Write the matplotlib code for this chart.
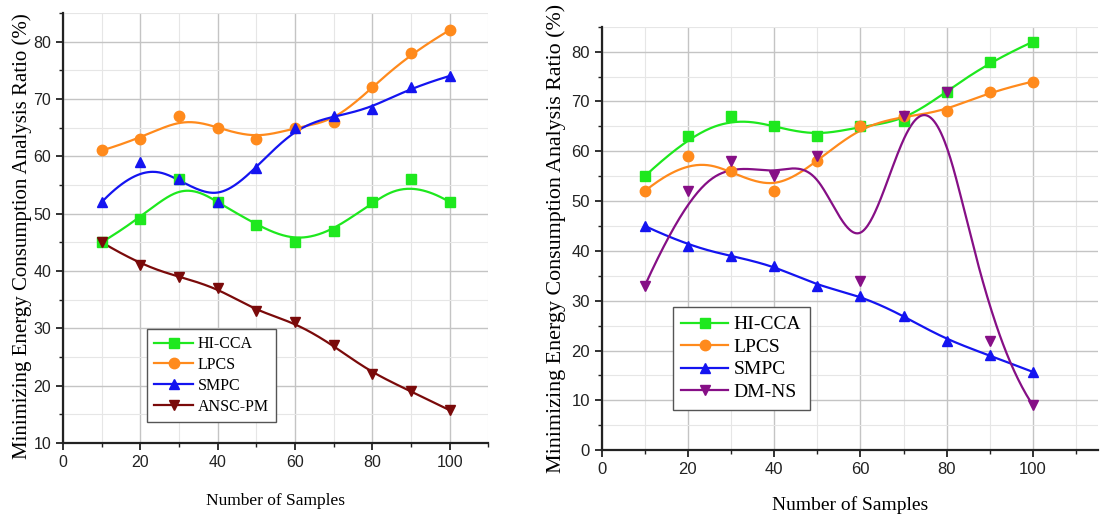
import numpy as np
import matplotlib
matplotlib.use('Agg')
import matplotlib.pyplot as plt
from matplotlib.ticker import MultipleLocator

# data
samples = [10, 20, 30, 40, 50, 60, 70, 80, 90, 100]

left_hicca = [45, 49, 56, 52, 48, 45, 47, 52, 56, 52]
left_lpcs = [61, 63, 67, 65, 63, 65, 66, 72, 78, 82]
left_smpc = [52, 59, 56, 52, 58, 65, 67, 68.3, 72, 74]
left_ansc = [45, 41, 39, 37, 33, 31, 27, 22, 19, 15.7]

right_hicca = [55, 63, 67, 65, 63, 65, 66, 72, 78, 82]
right_lpcs = [52, 59, 56, 52, 58, 65, 67, 68, 72, 74]
right_smpc = [45, 41, 39, 37, 33, 31, 27, 22, 19, 15.7]
right_dmns = [33, 52, 58, 55, 59, 34, 67, 72, 22, 9]

GREEN = '#1ee81e'
ORANGE = '#ff8a1c'
BLUE = '#1414f0'
DARKRED = '#7a0a0a'
PURPLE = '#860f86'

SERIF = ['Liberation Serif', 'DejaVu Serif']
SANS = ['Liberation Sans', 'DejaVu Sans']


def bspline(xs, ys, n=400, k=3):
    """Clamped uniform B-spline using the data points as control points"""
    P = np.column_stack([xs, ys]).astype(float)
    m = len(P)
    knots = np.concatenate([[0] * (k + 1), np.arange(1, m - k), [m - k] * (k + 1)]).astype(float)
    t = np.linspace(0, m - k - 1e-9, n)
    B = np.zeros((n, len(knots) - 1))
    for i in range(len(knots) - 1):
        B[:, i] = (knots[i] <= t) & (t < knots[i + 1])
    for d in range(1, k + 1):
        Bn = np.zeros((n, len(knots) - 1 - d))
        for i in range(len(knots) - 1 - d):
            a = knots[i + d] - knots[i]
            b = knots[i + d + 1] - knots[i + 1]
            if a > 0:
                Bn[:, i] += (t - knots[i]) / a * B[:, i]
            if b > 0:
                Bn[:, i] += (knots[i + d + 1] - t) / b * B[:, i + 1]
        B = Bn
    C = B @ P
    return C[:, 0], C[:, 1]


def draw_series(ax, ys, color, marker, label):
    cx, cy = bspline(samples, ys)
    ax.plot(cx, cy, color=color, lw=1.6, zorder=3)
    ax.plot(samples, ys, linestyle='none', marker=marker, ms=7.5,
            color=color, mec=color, zorder=4)
    # legend handle
    ax.plot([], [], color=color, lw=1.6, marker=marker, ms=7.5, label=label)


def style_axes(ax, ymin, ymax, xmax, tick_size, xlab_size, ylab_size, xpad):
    ax.set_xlim(0, xmax)
    ax.set_ylim(ymin, ymax)
    ax.xaxis.set_major_locator(MultipleLocator(20))
    ax.xaxis.set_minor_locator(MultipleLocator(10))
    ax.yaxis.set_major_locator(MultipleLocator(10))
    ax.yaxis.set_minor_locator(MultipleLocator(5))
    ax.grid(which='major', color='#c4c4c4', lw=1.0, zorder=0)
    ax.grid(which='minor', color='#e6e6e6', lw=0.8, zorder=0)
    ax.set_axisbelow(True)
    for side in ['top', 'right']:
        ax.spines[side].set_visible(False)
    for side in ['left', 'bottom']:
        ax.spines[side].set_linewidth(1.6)
        ax.spines[side].set_color('#222222')
    ax.tick_params(which='major', direction='out', length=5, width=1.3, labelsize=tick_size, colors='#222222')
    ax.tick_params(which='minor', direction='out', length=3, width=1.0, colors='#222222')
    for lab in ax.get_xticklabels() + ax.get_yticklabels():
        lab.set_family(SANS)
    ax.set_xlabel('Number of Samples', family=SERIF, fontsize=xlab_size, labelpad=xpad)
    ax.set_ylabel('Minimizing Energy Consumption Analysis Ratio (%)', family=SERIF, fontsize=ylab_size)


fig = plt.figure(figsize=(11.02, 5.15), dpi=100)
ax1 = fig.add_axes([0.0572, 0.140, 0.386, 0.835])
ax2 = fig.add_axes([0.546, 0.126, 0.450, 0.822])

draw_series(ax1, left_hicca, GREEN, 's', 'HI-CCA')
draw_series(ax1, left_lpcs, ORANGE, 'o', 'LPCS')
draw_series(ax1, left_smpc, BLUE, '^', 'SMPC')
draw_series(ax1, left_ansc, DARKRED, 'v', 'ANSC-PM')
style_axes(ax1, 10, 85, 110, 11.5, 12.5, 15, 17)
ax1.yaxis.set_label_coords(-0.072, 0.48)
leg1 = ax1.legend(loc='upper left', bbox_to_anchor=(0.198, 0.265), borderaxespad=0,
                  prop={'family': SERIF, 'size': 11.5},
                  fancybox=False, edgecolor='#555555', framealpha=1, handlelength=2.4,
                  labelspacing=0.3, borderpad=0.45, handletextpad=0.3)
leg1.get_frame().set_linewidth(1.0)

draw_series(ax2, right_hicca, GREEN, 's', 'HI-CCA')
draw_series(ax2, right_lpcs, ORANGE, 'o', 'LPCS')
draw_series(ax2, right_smpc, BLUE, '^', 'SMPC')
draw_series(ax2, right_dmns, PURPLE, 'v', 'DM-NS')
style_axes(ax2, 0, 85, 115, 12, 14, 15.8, 14)
leg2 = ax2.legend(loc='upper left', bbox_to_anchor=(0.143, 0.338), borderaxespad=0,
                  prop={'family': SERIF, 'size': 14},
                  fancybox=False, edgecolor='#555555', framealpha=1, handlelength=2.4,
                  labelspacing=0.25, borderpad=0.45, handletextpad=0.3)
leg2.get_frame().set_linewidth(1.0)

fig.savefig('out.png', dpi=100)
